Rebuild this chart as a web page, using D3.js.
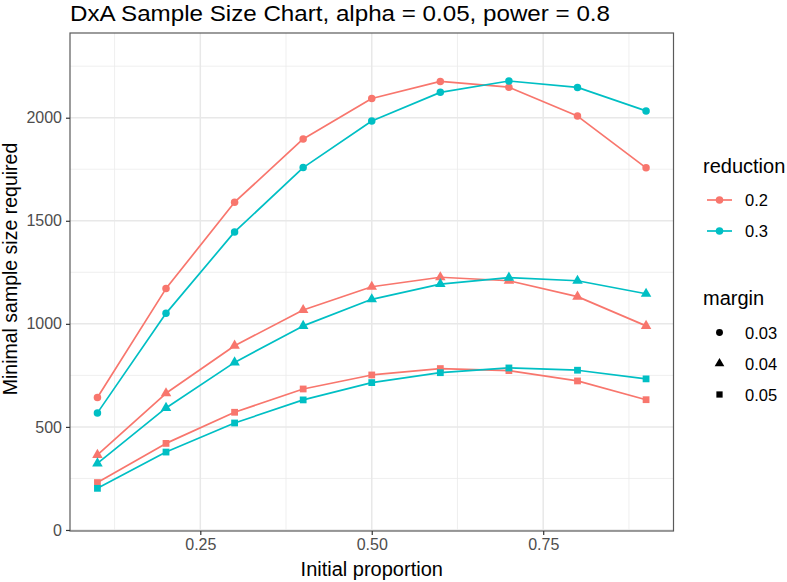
<!DOCTYPE html>
<html>
<head>
<meta charset="utf-8">
<script src="https://cdn.jsdelivr.net/npm/d3@7"></script>
<style>
  html, body { margin: 0; padding: 0; background: #fff; }
  svg { display: block; font-family: "Liberation Sans", Arial, Helvetica, sans-serif; }
</style>
</head>
<body>
<svg id="chart" width="787" height="582"></svg>
<script>
// ---- data ----
const proportions = [0.1, 0.2, 0.3, 0.4, 0.5, 0.6, 0.7, 0.8, 0.9];
const reductions = ["0.2", "0.3"];
const margins = ["0.03", "0.04", "0.05"];
// values per (reduction, margin)
const red02_m003 = [643, 1171, 1590, 1897, 2093, 2176, 2148, 2008, 1757];
const red03_m003 = [568, 1051, 1446, 1758, 1984, 2123, 2178, 2147, 2033];
const red02_m004 = [364, 663, 894, 1067, 1180, 1226, 1209, 1132, 990];
const red03_m004 = [323, 592, 813, 990, 1119, 1193, 1224, 1209, 1146];
const red02_m005 = [230, 420, 571, 684, 752, 783, 773, 723, 632];
const red03_m005 = [202, 378, 519, 631, 715, 763, 786, 775, 733];
const xTicks = [0.25, 0.50, 0.75];
const xTickLabels = ["0.25", "0.50", "0.75"];
const yTicks = [0, 500, 1000, 1500, 2000];
const yTickLabels = ["0", "500", "1000", "1500", "2000"];
const xMinor = [0.125, 0.375, 0.625, 0.875];
const yMinor = [250, 750, 1250, 1750, 2250];

const series = [
  { reduction: "0.2", margin: "0.03", values: red02_m003 },
  { reduction: "0.3", margin: "0.03", values: red03_m003 },
  { reduction: "0.2", margin: "0.04", values: red02_m004 },
  { reduction: "0.3", margin: "0.04", values: red03_m004 },
  { reduction: "0.2", margin: "0.05", values: red02_m005 },
  { reduction: "0.3", margin: "0.05", values: red03_m005 }
];

// ---- layout ----
const panel = { left: 70, right: 673.5, top: 33, bottom: 531 };
const svg = d3.select("#chart");

const x = d3.scaleLinear().domain([0.06, 0.94]).range([panel.left, panel.right]);
const y = d3.scaleLinear().domain([-5, 2411]).range([panel.bottom, panel.top]);
const color = d3.scaleOrdinal().domain(reductions).range(["#F8766D", "#00BFC4"]);
const shape = d3.scaleOrdinal().domain(margins).range([d3.symbolCircle, d3.symbolTriangle, d3.symbolSquare]);
const shapeSize = d3.scaleOrdinal().domain(margins).range([44, 48, 46]);

// panel background
svg.append("rect").attr("x", panel.left).attr("y", panel.top)
  .attr("width", panel.right - panel.left).attr("height", panel.bottom - panel.top)
  .attr("fill", "#fff");

const grid = svg.append("g");
// minor grid
grid.selectAll(".xminor").data(xMinor).join("line")
  .attr("x1", d => x(d)).attr("x2", d => x(d))
  .attr("y1", panel.top).attr("y2", panel.bottom)
  .attr("stroke", "#EBEBEB").attr("stroke-width", 0.8);
grid.selectAll(".yminor").data(yMinor).join("line")
  .attr("y1", d => y(d)).attr("y2", d => y(d))
  .attr("x1", panel.left).attr("x2", panel.right)
  .attr("stroke", "#EBEBEB").attr("stroke-width", 0.8);
// major grid
grid.selectAll(".xmajor").data(xTicks).join("line")
  .attr("x1", d => x(d)).attr("x2", d => x(d))
  .attr("y1", panel.top).attr("y2", panel.bottom)
  .attr("stroke", "#E8E8E8").attr("stroke-width", 1.5);
grid.selectAll(".ymajor").data(yTicks).join("line")
  .attr("y1", d => y(d)).attr("y2", d => y(d))
  .attr("x1", panel.left).attr("x2", panel.right)
  .attr("stroke", "#E8E8E8").attr("stroke-width", 1.5);

// lines and points
const line = d3.line().x((d, i) => x(proportions[i])).y(d => y(d));
const g = svg.append("g");
series.forEach(s => {
  g.append("path").datum(s.values)
    .attr("d", line)
    .attr("fill", "none")
    .attr("stroke", color(s.reduction))
    .attr("stroke-width", 1.7)
    .attr("stroke-linejoin", "round");
});
series.forEach(s => {
  const sym = d3.symbol().type(shape(s.margin)).size(shapeSize(s.margin));
  g.selectAll(null).data(s.values).join("path")
    .attr("transform", (d, i) => `translate(${x(proportions[i])},${y(d)})`)
    .attr("d", sym)
    .attr("fill", color(s.reduction));
});

// panel border
svg.append("rect").attr("x", panel.left).attr("y", panel.top)
  .attr("width", panel.right - panel.left).attr("height", panel.bottom - panel.top)
  .attr("fill", "none").attr("stroke", "#5a5a5a").attr("stroke-width", 1.2);

// axes
const xAxis = d3.axisBottom(x).tickValues(xTicks).tickFormat((d, i) => xTickLabels[i]).tickSize(4).tickPadding(4);
const gx = svg.append("g").attr("transform", `translate(0,${panel.bottom})`).call(xAxis);
gx.select(".domain").remove();
gx.selectAll(".tick line").attr("stroke", "#333").attr("stroke-width", 1.2);
gx.selectAll(".tick text").attr("fill", "#4D4D4D").attr("font-size", "16px")
  .attr("font-family", "Liberation Sans, Arial, sans-serif");

const yAxis = d3.axisLeft(y).tickValues(yTicks).tickFormat((d, i) => yTickLabels[i]).tickSize(4).tickPadding(4);
const gy = svg.append("g").attr("transform", `translate(${panel.left},0)`).call(yAxis);
gy.select(".domain").remove();
gy.selectAll(".tick line").attr("stroke", "#333").attr("stroke-width", 1.2);
gy.selectAll(".tick text").attr("fill", "#4D4D4D").attr("font-size", "16px")
  .attr("font-family", "Liberation Sans, Arial, sans-serif");

// titles
svg.append("text").attr("x", panel.left).attr("y", 20.5)
  .attr("font-size", "22px").attr("fill", "#000")
  .attr("textLength", 540).attr("lengthAdjust", "spacingAndGlyphs")
  .text("DxA Sample Size Chart, alpha = 0.05, power = 0.8");
svg.append("text").attr("x", (panel.left + panel.right) / 2).attr("y", 576)
  .attr("text-anchor", "middle").attr("font-size", "20px").attr("fill", "#000")
  .text("Initial proportion");
svg.append("text")
  .attr("transform", `translate(17,269) rotate(-90)`)
  .attr("text-anchor", "middle").attr("font-size", "19.5px").attr("fill", "#000")
  .text("Minimal sample size required");

// legend: reduction
const lg = svg.append("g");
lg.append("text").attr("x", 703).attr("y", 173).attr("font-size", "20px").attr("fill", "#000").text("reduction");
const redRows = [200, 231];
reductions.forEach((r, i) => {
  const cy = redRows[i];
  lg.append("line").attr("x1", 707).attr("x2", 732).attr("y1", cy).attr("y2", cy)
    .attr("stroke", color(r)).attr("stroke-width", 1.7);
  lg.append("path").attr("transform", `translate(719.5,${cy})`)
    .attr("d", d3.symbol().type(d3.symbolCircle).size(44)).attr("fill", color(r));
  lg.append("text").attr("x", 745).attr("y", cy + 6).attr("font-size", "16.5px").attr("fill", "#000").text(r);
});
// legend: margin
lg.append("text").attr("x", 703).attr("y", 305).attr("font-size", "20px").attr("fill", "#000").text("margin");
const marRows = [332.5, 363.5, 394.5];
margins.forEach((m, i) => {
  const cy = marRows[i];
  lg.append("path").attr("transform", `translate(719.5,${cy})`)
    .attr("d", d3.symbol().type(shape(m)).size(shapeSize(m) * 0.85)).attr("fill", "#000");
  lg.append("text").attr("x", 745).attr("y", cy + 6).attr("font-size", "16.5px").attr("fill", "#000").text(m);
});
</script>
</body>
</html>
